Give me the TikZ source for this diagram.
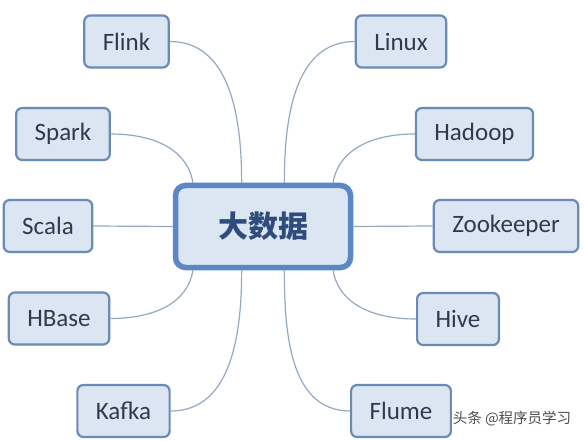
\documentclass[tikz,border=0pt]{standalone}
\usepackage{fontspec}
\setmainfont{Carlito}
\newfontfamily\cjk{Noto Sans CJK SC}
\usetikzlibrary{positioning}

\definecolor{boxfill}{HTML}{DCE6F2}
\definecolor{boxline}{HTML}{6A8BB6}
\definecolor{hubline}{HTML}{5B87C6}
\definecolor{hubtext}{HTML}{2F4D7C}
\definecolor{topictext}{HTML}{2E3A4E}
\definecolor{linkline}{HTML}{93A8C2}

\begin{document}
\begin{tikzpicture}[x=1pt,y=-1pt,
		topic/.style={draw=boxline, line width=2.2pt, fill=boxfill, rounded corners=6pt,
			minimum height=52pt, inner xsep=18.5pt, text=topictext, font=\fontsize{25}{29}\selectfont},
		hub/.style={draw=hubline, line width=5.5pt, fill=boxfill, rounded corners=10pt,
			minimum width=175pt, minimum height=82pt, text=hubtext, font=\cjk\bfseries\fontsize{30}{34}\selectfont},
		link/.style={draw=linkline, line width=1.2pt}]
		
		\useasboundingbox (0,0) rectangle (584,441);
		
		\node (big) [hub] at (263,226.5) {大数据};
		
		% left side
		\node (flink) [topic] at (126.5,41.5) {Flink};
		\node (spark) [topic] at (63,134) {Spark};
		\node (scala) [topic] at (48,226) {Scala};
		\node (hbase) [topic] at (59,318.5) {HBase};
		\node (kafka) [topic] at (123.5,411) {Kafka};
		
		% right side
		\node (linux) [topic] at (401,41.5) {Linux};
		\node (hadoop) [topic] at (474.5,134) {Hadoop};
		\node (zoo) [topic] at (506,226) {Zookeeper};
		\node (hive) [topic] at (458,319) {Hive};
		\node (flume) [topic] at (401,411) {Flume};
		
		\path [link]
		(big.116) edge [out=90, in=0] (flink.east)
		(big.148) edge [out=100, in=0] (spark.east)
		(big.west) edge (scala.east)
		(big.212) edge [out=-100, in=0] (hbase.east)
		(big.-116) edge [out=-90, in=0] (kafka.east)
		(big.64) edge [out=90, in=180] (linux.west)
		(big.32) edge [out=80, in=180] (hadoop.west)
		(big.east) edge (zoo.west)
		(big.-32) edge [out=-80, in=180] (hive.west)
		(big.-64) edge [out=-90, in=180] (flume.west);
		
		\node (mark) at (512,419) [text=black!70, font=\cjk\fontsize{14.5}{16}\selectfont] {头条 @程序员学习};
		
	\end{tikzpicture}
\end{document}
